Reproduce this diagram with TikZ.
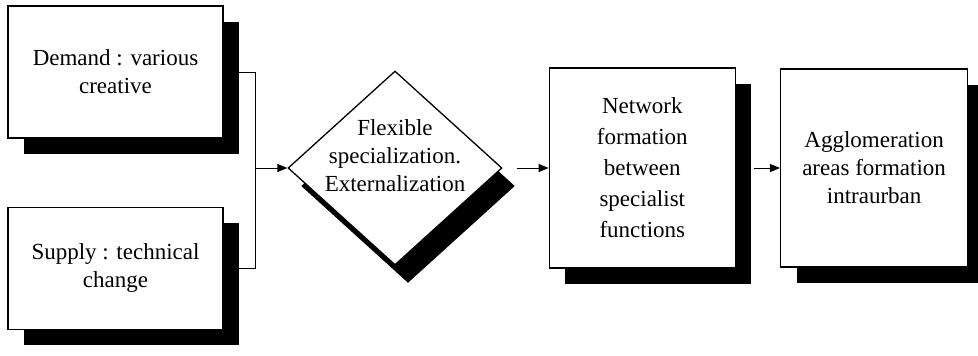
\documentclass[tikz,border=0pt]{standalone}
\usepackage{fontspec}
\setmainfont{Liberation Serif}
\usepackage{tikz}
\usetikzlibrary{arrows.meta,positioning,shapes.geometric,shadows}

\begin{document}
\begin{tikzpicture}[
    node distance=34pt and 23pt,
    font=\fontsize{11.5}{14}\selectfont,
    blk/.style={draw, fill=white, line width=0.65pt, align=center, inner sep=0pt},
    box/.style={blk, drop shadow={shadow xshift=8pt, shadow yshift=-8pt, opacity=1, fill=black}},
    dshd/.style={drop shadow={shadow xshift=6.5pt, shadow yshift=-9pt, opacity=1, fill=black}},
    arr/.style={-{Triangle[length=5pt,width=4pt]}, line width=0.5pt}
]
\useasboundingbox (0,0) rectangle (489pt,-177.5pt);
\node[box, minimum width=107.5pt, minimum height=66pt] (dem) at (57.75pt,-36pt) {Demand : various\\creative};
\node[box, minimum width=107.5pt, minimum height=61pt, below=34pt of dem] (sup) {Supply : technical\\change};
\node[blk, dshd, diamond, minimum width=107pt, minimum height=97pt] (dia) at (197.5pt,-84pt) {};
\node[align=center] (diatxt) at ([yshift=6pt]dia.center) {Flexible\\specialization.\\Externalization};
\node[box, minimum width=93pt, minimum height=100pt, right=23pt of dia, font=\fontsize{11.5}{15.5}\selectfont] (net) {Network\\formation\\between\\specialist\\functions};
\node[box, minimum width=93.5pt, minimum height=99pt, right=22pt of net] (agg) {Agglomeration\\areas formation\\intraurban};

\coordinate (jn) at ([xshift=16pt]dem.east);
\draw[line width=0.5pt] (dem.east) -- (jn) |- (sup.east);
\draw[arr] (jn |- dia.west) -- (dia.west);
\draw[arr] ([xshift=7pt]dia.east) -- (net.west);
\draw[arr] ([xshift=9pt]net.east) -- (agg.west);
\end{tikzpicture}
\end{document}
